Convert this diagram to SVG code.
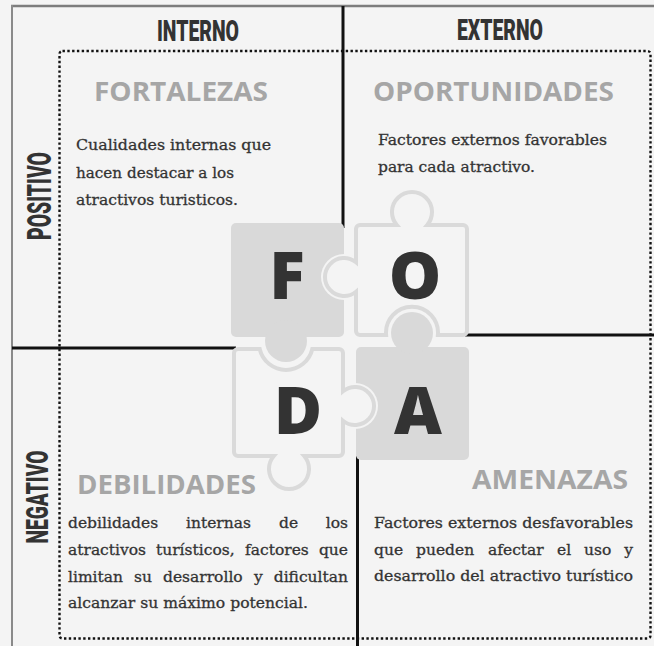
<svg xmlns="http://www.w3.org/2000/svg" width="654" height="646" viewBox="0 0 654 646">
<style>
.axis{font-family:Roboto,"Liberation Sans",sans-serif;font-weight:900;fill:#333;}
.head{font-family:"Open Sans","Liberation Sans",sans-serif;font-weight:700;font-size:26px;fill:#a6a6a6;}
.body{font-family:"DejaVu Serif","Liberation Serif",serif;font-size:15.5px;fill:#333;stroke:#333;stroke-width:0.3;}
.end{text-anchor:end;}
.letter{font-family:"Open Sans","Liberation Sans",sans-serif;font-weight:800;font-size:66px;fill:#333;text-anchor:middle;}
.solid{fill:#d9d9d9;}
.outl{fill:#f4f4f4;stroke:#dadada;stroke-width:4;}
.gap{fill:#f4f4f4;}
.grid{stroke:#111;stroke-width:3;fill:none;}
</style>
<rect x="0" y="0" width="654" height="646" fill="#f4f4f4"/>
<g id="frame">
<line x1="11" y1="6" x2="654" y2="6" stroke="#7d7d7d" stroke-width="2.5"/>
<line x1="12" y1="5" x2="12" y2="646" stroke="#8a8a8a" stroke-width="2"/>
<rect x="59.5" y="51" width="591" height="587.5" rx="3" fill="none" stroke="#111" stroke-width="2.4" stroke-dasharray="2.4 2.4"/>
</g>
<g id="connectors">
<line class="grid" x1="343" y1="6" x2="343" y2="228"/>
<line class="grid" x1="12" y1="348" x2="236" y2="348"/>
<line class="grid" x1="465" y1="335" x2="654" y2="335"/>
<line class="grid" x1="357.5" y1="456" x2="357.5" y2="646"/>
</g>
<g id="axis-labels">
<text class="axis" x="198" y="41" font-size="29.5" text-anchor="middle" textLength="82" lengthAdjust="spacingAndGlyphs">INTERNO</text>
<text class="axis" x="500" y="40" font-size="29.5" text-anchor="middle" textLength="86" lengthAdjust="spacingAndGlyphs">EXTERNO</text>
<text class="axis" transform="translate(51,196) rotate(-90)" font-size="34" text-anchor="middle" textLength="88" lengthAdjust="spacingAndGlyphs">POSITIVO</text>
<text class="axis" transform="translate(48,497) rotate(-90)" font-size="32" text-anchor="middle" textLength="93" lengthAdjust="spacingAndGlyphs">NEGATIVO</text>
</g>
<g id="puzzle">
<g id="piece-F">
<rect class="solid" x="231" y="223" width="113" height="114" rx="5"/>
<circle class="solid" cx="286" cy="341" r="21"/>
<circle class="gap" cx="344" cy="277" r="23"/>
</g>
<g id="piece-A">
<rect class="solid" x="356" y="347" width="113" height="113" rx="5"/>
<circle class="solid" cx="412" cy="333" r="21"/>
<circle class="gap" cx="355" cy="406" r="23"/>
</g>
<g id="piece-O">
<path class="outl" d="M360,225 L396.8,225 A20,20 0 1 1 427.2,225 L463,225 A4,4 0 0 1 467,229 L467,331 A4,4 0 0 1 463,335 L437.9,335 A26,26 0 1 0 386.1,335 L360,335 A4,4 0 0 1 356,331 L356,291.7 A19,19 0 1 1 356,262.3 L356,229 A4,4 0 0 1 360,225 Z"/>
</g>
<g id="piece-D">
<path class="outl" d="M238,349 L259.7,349 A27,27 0 0 0 312.3,349 L339,349 A4,4 0 0 1 343,353 L343,391.3 A19,19 0 1 1 343,420.7 L343,452 A4,4 0 0 1 339,456 L304.2,456 A20,20 0 1 1 273.8,456 L238,456 A4,4 0 0 1 234,452 L234,353 A4,4 0 0 1 238,349 Z"/>
</g>
<text class="letter" x="287" y="299">F</text>
<text class="letter" x="415" y="299">O</text>
<text class="letter" x="298" y="434">D</text>
<text class="letter" x="418" y="434">A</text>
</g>
<g id="fortalezas">
<text class="head" x="94" y="101" textLength="174" lengthAdjust="spacingAndGlyphs">FORTALEZAS</text>
<text class="body" x="76" y="150" textLength="195" lengthAdjust="spacingAndGlyphs">Cualidades internas que</text>
<text class="body" x="76" y="178" textLength="158" lengthAdjust="spacingAndGlyphs">hacen destacar a los</text>
<text class="body" x="76" y="205" textLength="162" lengthAdjust="spacingAndGlyphs">atractivos turisticos.</text>
</g>
<g id="oportunidades">
<text class="head" x="373" y="101" textLength="241" lengthAdjust="spacingAndGlyphs">OPORTUNIDADES</text>
<text class="body" x="378" y="145" textLength="229" lengthAdjust="spacingAndGlyphs">Factores externos favorables</text>
<text class="body" x="378" y="172" textLength="157" lengthAdjust="spacingAndGlyphs">para cada atractivo.</text>
</g>
<g id="debilidades">
<text class="head" x="77" y="494" textLength="179" lengthAdjust="spacingAndGlyphs">DEBILIDADES</text>
<text class="body" y="528"><tspan x="68">debilidades</tspan><tspan x="186">internas</tspan><tspan x="279">de</tspan></text>
<text class="body end" x="348" y="528">los</text>
<text class="body" y="555"><tspan x="68">atractivos</tspan><tspan x="156">turísticos,</tspan><tspan x="245">factores</tspan></text>
<text class="body end" x="348" y="555">que</text>
<text class="body" y="582"><tspan x="68">limitan</tspan><tspan x="134">su</tspan><tspan x="163">desarrollo</tspan><tspan x="254">y</tspan></text>
<text class="body end" x="348" y="582">dificultan</text>
<text class="body" x="68" y="608" textLength="240" lengthAdjust="spacingAndGlyphs">alcanzar su máximo potencial.</text>
</g>
<g id="amenazas">
<text class="head" x="472" y="489" textLength="156" lengthAdjust="spacingAndGlyphs">AMENAZAS</text>
<text class="body" x="374" y="528" textLength="259" lengthAdjust="spacingAndGlyphs">Factores externos desfavorables</text>
<text class="body" y="555"><tspan x="374">que</tspan><tspan x="416">pueden</tspan><tspan x="488">afectar</tspan><tspan x="557">el</tspan><tspan x="584">uso</tspan></text>
<text class="body end" x="633" y="555">y</text>
<text class="body" x="374" y="581" textLength="259" lengthAdjust="spacingAndGlyphs">desarrollo del atractivo turístico</text>
</g>
</svg>
